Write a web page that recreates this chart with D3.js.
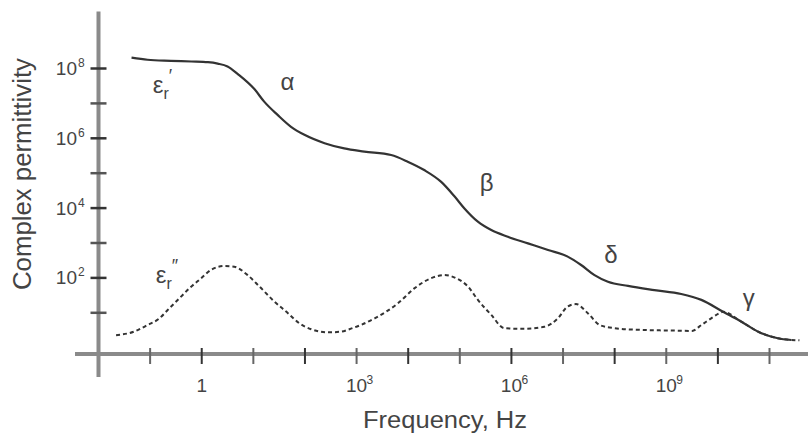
<!DOCTYPE html>
<html>
<head>
<script src="https://cdn.jsdelivr.net/npm/d3@7"></script>
<style>
    body { margin: 0; background: #fff; }
    text { font-family: "Liberation Sans", Arial, sans-serif; fill: #444; }
</style>
</head>
<body>
<div id="chart"></div>
<script>
// values, as log10 of frequency (Hz) and log10 of permittivity
var realLogF = [-1.36, -1.05, -0.6, -0.2, 0.12, 0.31, 0.5, 0.7, 1.02, 1.21, 1.47, 1.73, 1.99, 2.38, 2.76,
                3.15, 3.67, 3.99, 4.31, 4.64, 4.9, 5.09, 5.35, 5.61, 5.93, 6.32, 6.71, 7.09, 7.35, 7.61,
                7.87, 8.26, 8.77, 9.29, 9.68, 10.1, 10.45, 10.78, 11.16, 11.42];
var realLogE = [8.31, 8.25, 8.22, 8.2, 8.18, 8.14, 8.06, 7.84, 7.41, 7.05, 6.67, 6.33, 6.1, 5.86, 5.71,
                5.62, 5.52, 5.33, 5.09, 4.75, 4.33, 3.99, 3.61, 3.37, 3.18, 2.99, 2.8, 2.61, 2.37, 2.08,
                1.89, 1.77, 1.65, 1.54, 1.37, 1.03, 0.75, 0.46, 0.27, 0.22];

var lossLogF = [-1.66, -1.31, -1.05, -0.82, -0.66, -0.43, -0.24, -0.01, 0.18, 0.44, 0.63, 0.89, 1.12, 1.41, 1.67,
                1.89, 2.12, 2.44, 2.7, 2.86, 3.35, 3.8, 4.12, 4.44, 4.7, 4.93, 5.16, 5.35, 5.61, 5.86,
                6.25, 6.64, 6.9, 7.09, 7.25, 7.48, 7.71, 8.0, 8.51, 9.16, 9.5, 9.68, 9.87, 10.03, 10.1,
                10.45, 10.78, 11.16, 11.58];
var lossLogE = [0.36, 0.46, 0.65, 0.84, 1.08, 1.42, 1.7, 1.99, 2.23, 2.34, 2.32, 2.08, 1.75, 1.32, 0.99,
                0.7, 0.53, 0.44, 0.46, 0.53, 0.84, 1.27, 1.7, 1.99, 2.08, 1.99, 1.75, 1.37, 0.94, 0.56,
                0.54, 0.6, 0.84, 1.18, 1.25, 0.99, 0.65, 0.56, 0.51, 0.49, 0.48, 0.65, 0.84, 0.99, 1.03,
                0.75, 0.46, 0.27, 0.21];

var xTickExps = [-1, 0, 1, 2, 3, 4, 5, 6, 7, 8, 9, 10, 11];
var yTickExps = [1, 2, 3, 4, 5, 6, 7, 8];
var xLabelExps = [0, 3, 6, 9];
var yLabelExps = [2, 4, 6, 8];

var regionNames = ["\u03b1", "\u03b2", "\u03b4", "\u03b3"];
var regionLogF = [1.66, 5.52, 7.93, 10.6];
var regionLogE = [7.38, 4.49, 2.43, 1.2];

var seriesNames = ["\u2032", "\u2033"];
var seriesLogF = [-0.95, -0.89];
var seriesLogE = [7.3, 1.85];

var w = 808, h = 437;
var p10 = function(e) { return Math.pow(10, e); };

var xScale = d3.scaleLog().domain([1e-2, 1e11]).range([98.5, 769.5]);
var yScale = d3.scaleLog().domain([1e1, 1e8]).range([312.8, 68.5]);

var svg = d3.select("#chart").append("svg")
    .attr("width", w).attr("height", h);

var x0 = xScale(1e-2);
var y0 = yScale(p10(-0.18));

// axes
svg.append("line")
    .attr("x1", 75).attr("x2", w)
    .attr("y1", y0).attr("y2", y0)
    .style("stroke", "#8a8a8a").style("stroke-width", 4);
svg.append("line")
    .attr("x1", x0).attr("x2", x0)
    .attr("y1", yScale(p10(9.63))).attr("y2", yScale(p10(-0.84)))
    .style("stroke", "#8a8a8a").style("stroke-width", 4);

svg.selectAll(".xtick").data(xTickExps).enter().append("line")
    .attr("class", "xtick")
    .attr("x1", function(d) { return xScale(p10(d)); })
    .attr("x2", function(d) { return xScale(p10(d)); })
    .attr("y1", y0 - 6).attr("y2", y0 + 10)
    .style("stroke", function(d, i) { return i % 2 ? "#333" : "#666"; })
    .style("stroke-width", 2);

svg.selectAll(".ytick").data(yTickExps).enter().append("line")
    .attr("class", "ytick")
    .attr("x1", x0 - 8).attr("x2", x0 + 8)
    .attr("y1", function(d) { return yScale(p10(d)); })
    .attr("y2", function(d) { return yScale(p10(d)); })
    .style("stroke", function(d, i) { return i % 2 ? "#333" : "#555"; })
    .style("stroke-width", 2.5);

// x tick labels
svg.selectAll(".xlab").data(xLabelExps).enter().append("text")
    .attr("class", "xlab")
    .attr("x", function(d) { return xScale(p10(d)); })
    .attr("y", y0 + 38)
    .attr("text-anchor", "middle")
    .style("font-size", "19px")
    .text(function(d) { return d == 0 ? "1" : "10"; });
svg.selectAll(".xsup").data(xLabelExps.filter(function(d) { return d != 0; })).enter().append("text")
    .attr("class", "xsup")
    .attr("x", function(d) { return xScale(p10(d)) + 10; })
    .attr("y", y0 + 30)
    .style("font-size", "12px")
    .text(function(d) { return d; });

// y tick labels
svg.selectAll(".ylab").data(yLabelExps).enter().append("text")
    .attr("class", "ylab")
    .attr("x", 77)
    .attr("y", function(d) { return yScale(p10(d)) + 6.5; })
    .attr("text-anchor", "end")
    .style("font-size", "19px")
    .text("10");
svg.selectAll(".ysup").data(yLabelExps).enter().append("text")
    .attr("class", "ysup")
    .attr("x", 78)
    .attr("y", function(d) { return yScale(p10(d)) - 1.5; })
    .style("font-size", "12px")
    .text(function(d) { return d; });

// axis titles
svg.append("text")
    .attr("x", 445).attr("y", 428)
    .attr("text-anchor", "middle")
    .attr("textLength", 164).attr("lengthAdjust", "spacingAndGlyphs")
    .style("font-size", "23px")
    .text("Frequency, Hz");
svg.append("text")
    .attr("transform", "translate(31,174) rotate(-90)")
    .attr("text-anchor", "middle")
    .attr("textLength", 232).attr("lengthAdjust", "spacingAndGlyphs")
    .style("font-size", "25px")
    .text("Complex permittivity");

// curves
var line = d3.line()
    .x(function(d) { return xScale(p10(d[0])); })
    .y(function(d) { return yScale(p10(d[1])); })
    .curve(d3.curveMonotoneX);

svg.append("path")
    .datum(d3.zip(lossLogF, lossLogE))
    .attr("d", line)
    .style("fill", "none").style("stroke", "#333")
    .style("stroke-width", 2).style("stroke-dasharray", "4,3");

svg.append("path")
    .datum(d3.zip(realLogF, realLogE))
    .attr("d", line)
    .style("fill", "none").style("stroke", "#333")
    .style("stroke-width", 2.2);

// relaxation region labels
svg.selectAll(".region").data(regionNames).enter().append("text")
    .attr("class", "region")
    .attr("x", function(d, i) { return xScale(p10(regionLogF[i])); })
    .attr("y", function(d, i) { return yScale(p10(regionLogE[i])); })
    .attr("text-anchor", "middle")
    .style("font-size", "24px")
    .text(function(d) { return d; });

// epsilon labels
var eps = svg.selectAll(".eps").data(seriesNames).enter().append("text")
    .attr("class", "eps")
    .attr("x", function(d, i) { return xScale(p10(seriesLogF[i])); })
    .attr("y", function(d, i) { return yScale(p10(seriesLogE[i])); })
    .style("font-size", "24px");
eps.append("tspan").text("\u03b5");
eps.append("tspan").attr("dy", 6).style("font-size", "16px").text("r");
eps.append("tspan").attr("dy", -17).style("font-size", "18px").text(function(d) { return d; });
</script>
</body>
</html>
